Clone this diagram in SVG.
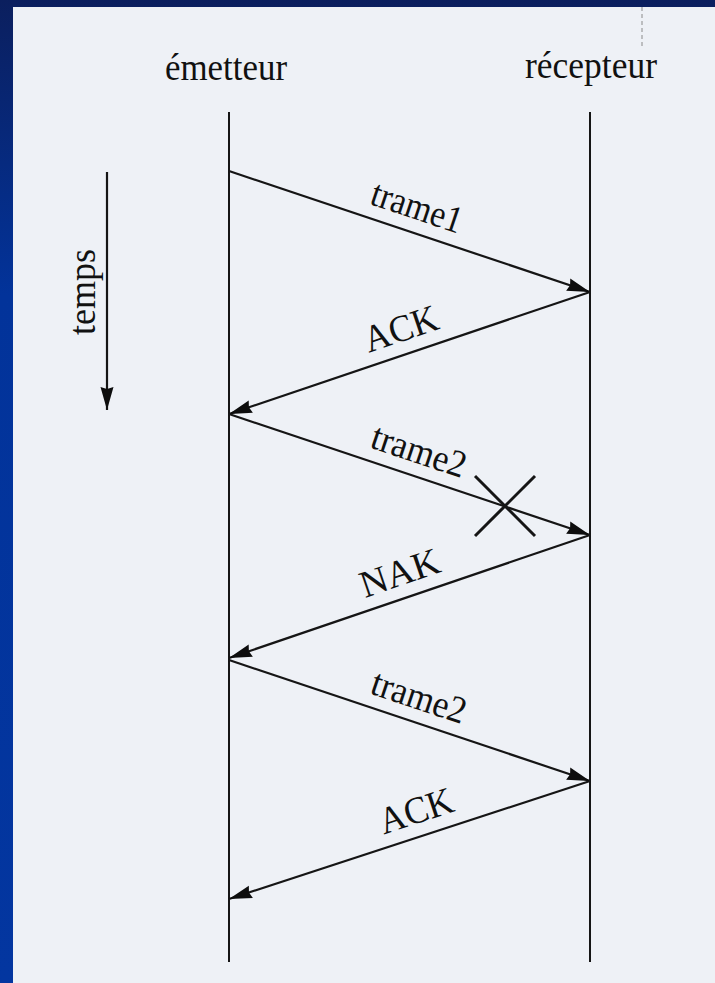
<svg xmlns="http://www.w3.org/2000/svg" width="715" height="983" viewBox="0 0 715 983">
  <defs>
    <linearGradient id="bg" x1="0" y1="0" x2="0" y2="1">
      <stop offset="0" stop-color="#0b1f5e"/>
      <stop offset="0.3" stop-color="#02339a"/>
      <stop offset="1" stop-color="#0336a0"/>
    </linearGradient>
    <marker id="head" markerUnits="userSpaceOnUse" markerWidth="26" markerHeight="16" refX="23" refY="7" orient="auto" overflow="visible">
      <path d="M0,0.5 L23,7 L0,13.5 L2,7 Z" fill="#0d0d0d"/>
    </marker>
    <style>
      .life { stroke: #151515; stroke-width: 2; fill: none; }
      .msg { stroke: #151515; stroke-width: 2.2; fill: none; marker-end: url(#head); }
      .cross { stroke: #151515; stroke-width: 3; fill: none; }
      .t { font-family: "Liberation Serif", "Times New Roman", serif; font-size: 38px; fill: #111; text-anchor: middle; }
    </style>
  </defs>
  <rect x="0" y="0" width="715" height="983" fill="url(#bg)"/>
  <rect x="13" y="7" width="702" height="976" fill="#eef1f6"/>
  <line x1="642" y1="7" x2="642" y2="48" stroke="#8a8a8a" stroke-width="1" stroke-dasharray="4 3"/>

  <g id="emetteur">
    <text class="t" x="226" y="80" textLength="122" lengthAdjust="spacingAndGlyphs">émetteur</text>
    <line class="life" x1="229" y1="112" x2="229" y2="962"/>
  </g>
  <g id="recepteur">
    <text class="t" x="591" y="78" textLength="132" lengthAdjust="spacingAndGlyphs">récepteur</text>
    <line class="life" x1="590" y1="112" x2="590" y2="962"/>
  </g>
  <g id="temps">
    <line class="msg" x1="107" y1="172" x2="107" y2="410"/>
    <text class="t" transform="translate(95,292) rotate(-90)" textLength="86" lengthAdjust="spacingAndGlyphs">temps</text>
  </g>

  <g id="connectors">
    <line class="msg" x1="229" y1="171" x2="590" y2="292"/>
    <line class="msg" x1="590" y1="292" x2="229" y2="414"/>
    <line class="msg" x1="229" y1="414" x2="590" y2="535"/>
    <line class="msg" x1="590" y1="535" x2="229" y2="658"/>
    <line class="msg" x1="229" y1="660" x2="590" y2="781"/>
    <line class="msg" x1="590" y1="781" x2="229" y2="899"/>
  </g>

  <g id="loss">
    <line class="cross" x1="475" y1="476" x2="535" y2="536"/>
    <line class="cross" x1="475" y1="536" x2="535" y2="476"/>
  </g>

  <g id="labels">
    <text class="t" transform="translate(409,231) rotate(18.5)" y="-13" textLength="94" lengthAdjust="spacingAndGlyphs">trame1</text>
    <text class="t" transform="translate(409,353) rotate(-18.7)" y="-13" textLength="76" lengthAdjust="spacingAndGlyphs">ACK</text>
    <text class="t" transform="translate(411,475) rotate(18.5)" y="-13" textLength="98" lengthAdjust="spacingAndGlyphs">trame2</text>
    <text class="t" transform="translate(408,597) rotate(-18.8)" y="-13" textLength="82" lengthAdjust="spacingAndGlyphs">NAK</text>
    <text class="t" transform="translate(411,721) rotate(18.5)" y="-13" textLength="98" lengthAdjust="spacingAndGlyphs">trame2</text>
    <text class="t" transform="translate(424,835) rotate(-18.1)" y="-13" textLength="76" lengthAdjust="spacingAndGlyphs">ACK</text>
  </g>
</svg>
